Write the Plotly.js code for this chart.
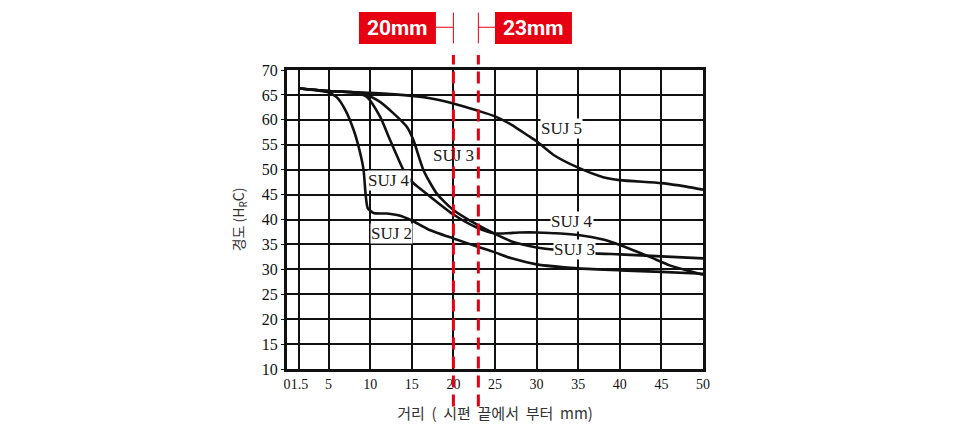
<!DOCTYPE html>
<html>
<head>
<meta charset="utf-8">
<script src="https://cdn.plot.ly/plotly-3.0.1.min.js"></script>
<style>html,body{margin:0;padding:0;background:#fff;}#chart{width:969px;height:441px;}</style>
</head>
<body>
<div id="chart"></div>
<script>
// ---- data (distance from quenched end, mm ; hardness HRC) ----
const suj2X = [1.5, 5, 6, 7, 8, 8.7, 9.2, 9.45, 9.7, 10.4, 12, 13.5, 15, 17, 20, 23, 25, 27, 30, 35, 40, 45, 50];
const suj2Y = [66.3, 65.5, 64.5, 62, 58, 54, 50, 45, 42.3, 41.3, 41.2, 40.8, 39.8, 38, 36.2, 34.5, 33.4, 32.2, 31, 30.2, 29.8, 29.5, 29.1];
const suj3X = [1.5, 5, 9.2, 11, 12.8, 14.4, 15.2, 16.4, 18, 20, 22.8, 25, 27, 30, 33, 37, 40, 45, 50];
const suj3Y = [66.3, 65.8, 65.2, 63.8, 61.3, 58.6, 55.9, 49.9, 45.2, 41.9, 39, 37.1, 35.6, 34.4, 33.8, 33.2, 33, 32.6, 32.2];
const suj4X = [1.5, 5, 8, 9.6, 11.2, 12.4, 14, 14.8, 17.2, 20, 22.8, 25, 28, 30, 35, 38, 40, 43.6, 46, 48, 50];
const suj4Y = [66.3, 65.8, 65.5, 64.6, 60.6, 55.9, 49.9, 47.9, 44.6, 41, 38.4, 37.2, 37.4, 37.4, 36.9, 36, 34.9, 32.5, 30.8, 29.8, 28.9];
const suj5X = [1.5, 5, 10, 15, 17, 20, 23, 25, 27, 29, 30, 32, 35, 38, 40, 45, 48, 50];
const suj5Y = [66.3, 65.8, 65.4, 64.8, 64.4, 63.3, 61.8, 60.7, 59, 56.8, 55.7, 53, 50.4, 48.5, 47.9, 47.3, 46.6, 46];

// curve labels
const labelText = ['SUJ 5', 'SUJ 3', 'SUJ 4', 'SUJ 2', 'SUJ 4', 'SUJ 3'];
const labelX = [33, 20, 12.3, 12.5, 34.2, 34.6];
const labelY = [58.3, 52.9, 47.9, 37.2, 39.5, 33.9];

// axis ticks
const xTicks = [0, 1.5, 5, 10, 15, 20, 25, 30, 35, 40, 45, 50];
const xTickText = ['0', '1.5', '5', '10', '15', '20', '25', '30', '35', '40', '45', '50'];
const yTicks = [10, 15, 20, 25, 30, 35, 40, 45, 50, 55, 60, 65, 70];

// highlighted distances
const markX = [20, 23];
const markText = ['20mm', '23mm'];

const RED = '#e60012';
const SERIF = 'Liberation Serif, DejaVu Serif, serif';
const curve = (x, y, name) => ({
  x: x, y: y, name: name, type: 'scatter', mode: 'lines',
  line: {color: '#111', width: 2.6, shape: 'spline', smoothing: 0.6},
  hoverinfo: 'x+y+name'
});

const traces = [
  curve(suj2X, suj2Y, 'SUJ2'),
  curve(suj3X, suj3Y, 'SUJ3'),
  curve(suj4X, suj4Y, 'SUJ4'),
  curve(suj5X, suj5Y, 'SUJ5')
];

const shapes = [];
const annotations = [];

// curve labels
labelText.forEach((t, i) => {
  annotations.push({
    x: labelX[i], y: labelY[i], xref: 'x', yref: 'y', text: t, showarrow: false,
    font: {family: SERIF, size: 17, color: '#1a1a1a'},
    bgcolor: i === 1 ? 'rgba(0,0,0,0)' : '#fff', borderpad: 0
  });
});

// red markers: dashed lines, connector ticks, boxes
markX.forEach((mx, i) => {
  shapes.push({type: 'line', xref: 'x', yref: 'paper', x0: mx, x1: mx, y0: -0.125, y1: 1.05,
    line: {color: RED, width: 3, dash: '12px,7px'}, layer: 'above'});
  shapes.push({type: 'line', xref: 'x', yref: 'paper', x0: mx, x1: mx, y0: 1.089, y1: 1.192,
    line: {color: RED, width: 1}, layer: 'above'});
  const left = i === 0;
  const boxX0 = left ? 8.65 : 25.0;
  const boxX1 = left ? 17.9 : 34.25;
  shapes.push({type: 'line', xref: 'x', yref: 'paper', x0: left ? boxX1 : mx, x1: left ? mx : boxX0,
    y0: 1.143, y1: 1.143, line: {color: RED, width: 1}, layer: 'above'});
  shapes.push({type: 'rect', xref: 'x', yref: 'paper', x0: boxX0, x1: boxX1, y0: 1.087, y1: 1.194,
    fillcolor: RED, line: {width: 0}, layer: 'above'});
  annotations.push({x: (boxX0 + boxX1) / 2, y: 1.1405, xref: 'x', yref: 'paper', text: '<b>' + markText[i] + '</b>',
    showarrow: false, font: {family: 'Liberation Sans Narrow, Roboto, Liberation Sans, sans-serif', size: 21, color: '#fff'},
    xanchor: 'center', yanchor: 'middle'});
});

const layout = {
  width: 969, height: 441,
  margin: {l: 287, r: 266, t: 70, b: 72},
  paper_bgcolor: '#fff', plot_bgcolor: '#fff',
  showlegend: false,
  xaxis: {
    range: [0, 50], tickvals: xTicks, ticktext: xTickText, tickangle: 0,
    showgrid: true, gridcolor: '#111', gridwidth: 2,
    showline: true, mirror: true, linecolor: '#111', linewidth: 3,
    zeroline: false, ticks: '', ticklen: 0,
    tickfont: {family: SERIF, size: 14, color: '#111'},
    title: {text: '거리\u00a0\u00a0(\u00a0\u00a0시편\u00a0\u00a0끝에서\u00a0\u00a0부터\u00a0\u00a0mm)', standoff: 18,
      font: {family: 'Noto Sans CJK KR, sans-serif', size: 15, color: '#333'}}
  },
  yaxis: {
    range: [10, 70], tickvals: yTicks,
    showgrid: true, gridcolor: '#111', gridwidth: 2,
    showline: true, mirror: true, linecolor: '#111', linewidth: 3,
    zeroline: false, ticks: 'outside', ticklen: 3, tickcolor: '#111',
    tickfont: {family: SERIF, size: 16, color: '#111'},
    title: {text: '경도 (H<sub>R</sub>C)', standoff: 14,
      font: {family: 'Noto Sans CJK KR, sans-serif', size: 14, color: '#333'}}
  },
  shapes: shapes,
  annotations: annotations
};

Plotly.newPlot('chart', traces, layout, {displayModeBar: false, staticPlot: true});
</script>
</body>
</html>
